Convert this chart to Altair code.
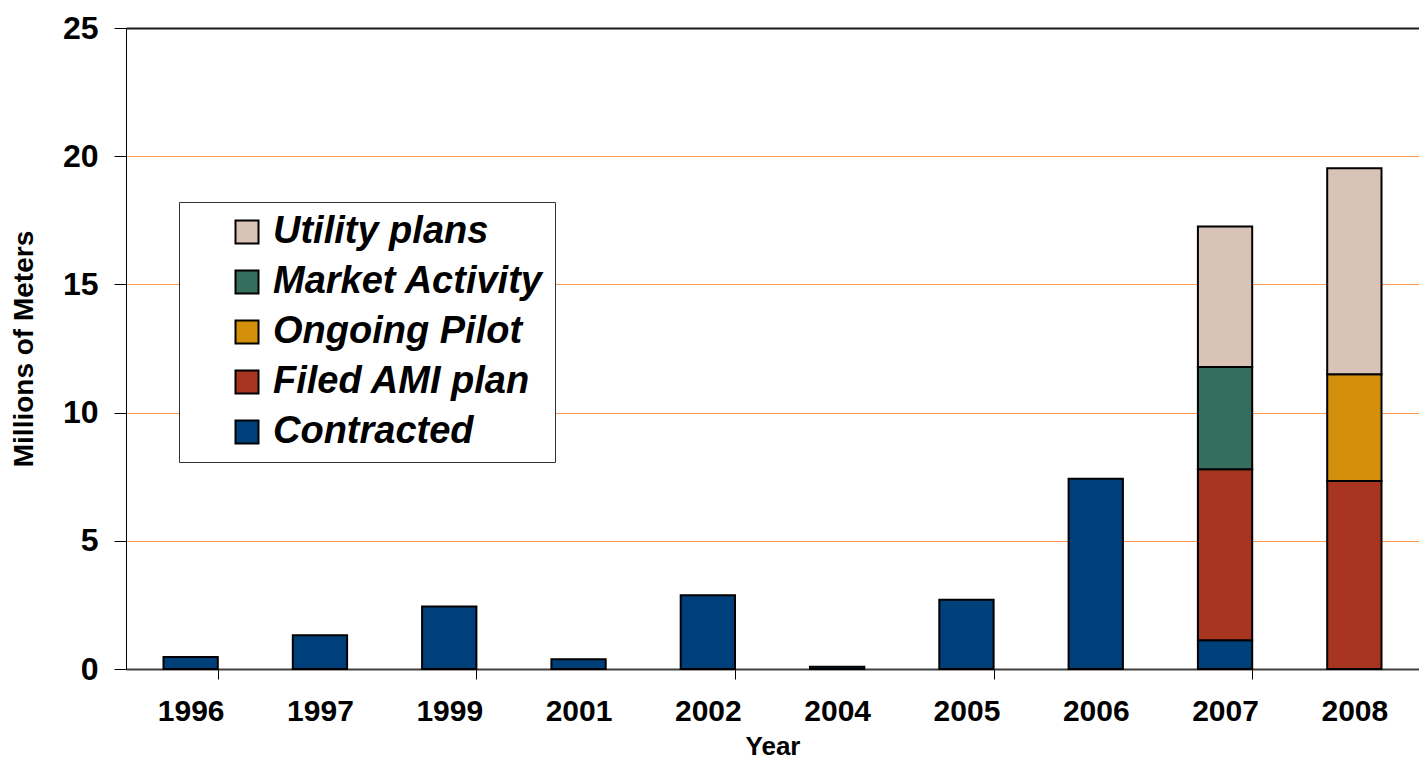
import altair as alt
import pandas as pd

years = ["1996", "1997", "1999", "2001", "2002", "2004", "2005", "2006", "2007", "2008"]
contracted = [0.47, 1.32, 2.44, 0.38, 2.88, 0.09, 2.70, 7.42, 1.12, 0.0]
filed_ami = [0, 0, 0, 0, 0, 0, 0, 0, 6.67, 7.33]
ongoing_pilot = [0, 0, 0, 0, 0, 0, 0, 0, 0, 4.17]
market_activity = [0, 0, 0, 0, 0, 0, 0, 0, 3.99, 0]
utility_plans = [0, 0, 0, 0, 0, 0, 0, 0, 5.48, 8.03]

series_names = ["Contracted", "Filed AMI plan", "Ongoing Pilot", "Market Activity", "Utility plans"]
series_values = [contracted, filed_ami, ongoing_pilot, market_activity, utility_plans]
legend_order = ["Utility plans", "Market Activity", "Ongoing Pilot", "Filed AMI plan", "Contracted"]
legend_colors = ["#D9C3B7", "#356E5C", "#D4900A", "#A8351F", "#00407A"]
y_ticks = [0, 5, 10, 15, 20, 25]
tick_years = ["1996", "1999", "2002", "2005", "2007"]

rows = []
for si, (name, vals) in enumerate(zip(series_names, series_values)):
    for yr, v in zip(years, vals):
        if v > 0:
            rows.append({"Year": yr, "Series": name, "Value": v, "StackIdx": si})
df = pd.DataFrame(rows)

FONT = "Liberation Sans"
tick_test = "indexof(" + str(tick_years) + ", datum.value) >= 0"

chart = alt.Chart(df).mark_bar(stroke="black", strokeWidth=2).encode(
    x=alt.X(
        "Year:N",
        sort=years,
        scale=alt.Scale(paddingInner=0.58, paddingOuter=0.29),
        axis=alt.Axis(
            title="Year",
            labelAngle=0,
            labelFont=FONT,
            labelFontSize=30,
            labelFontWeight="bold",
            labelColor="black",
            labelPadding=17,
            titleFont=FONT,
            titleFontSize=26,
            titleFontWeight="bold",
            titleColor="black",
            titlePadding=7,
            domainColor="#404040",
            domainWidth=2,
            tickColor="black",
            tickSize=10,
            tickWidth=1,
            tickBand="extent",
            tickOpacity={"condition": {"test": tick_test, "value": 1}, "value": 0},
            grid=False,
        ),
    ),
    y=alt.Y(
        "Value:Q",
        stack="zero",
        scale=alt.Scale(domain=[0, 25], nice=False),
        axis=alt.Axis(
            title="Millions of Meters",
            values=y_ticks,
            labelFont=FONT,
            labelFontSize=32,
            labelFontWeight="bold",
            labelColor="black",
            labelPadding=16,
            titleFont=FONT,
            titleFontSize=28,
            titleFontWeight="bold",
            titleColor="black",
            titlePadding=24,
            domainColor="black",
            domainWidth=1,
            tickColor="black",
            tickSize=12,
            grid=True,
            gridColor={"condition": {"test": "datum.value === 25", "value": "#1a1a1a"}, "value": "#FF9A55"},
            gridWidth={"condition": {"test": "datum.value === 25", "value": 2}, "value": 1},
        ),
    ),
    color=alt.Color(
        "Series:N",
        scale=alt.Scale(domain=legend_order, range=legend_colors),
        legend=alt.Legend(
            title=None,
            orient="none",
            legendX=53,
            legendY=174,
            direction="vertical",
            fillColor="white",
            strokeColor="#333333",
            padding=11,
            rowPadding=12,
            symbolType="square",
            symbolSize=529,
            symbolStrokeColor="black",
            symbolStrokeWidth=2,
            symbolOffset=38,
            labelOffset=7,
            labelFont=FONT,
            labelFontSize=38,
            labelFontStyle="italic",
            labelFontWeight="bold",
            labelColor="black",
            labelLimit=600,
        ),
    ),
    order=alt.Order("StackIdx:Q", sort="ascending"),
).properties(
    width=1293,
    height=641,
    autosize=alt.AutoSizeParams(type="none"),
    padding={"left": 118, "top": 20, "right": 0, "bottom": 95},
).configure_view(stroke=None).configure(background="white")

chart.save("out.html", embed_options={"renderer": "svg", "actions": False})
